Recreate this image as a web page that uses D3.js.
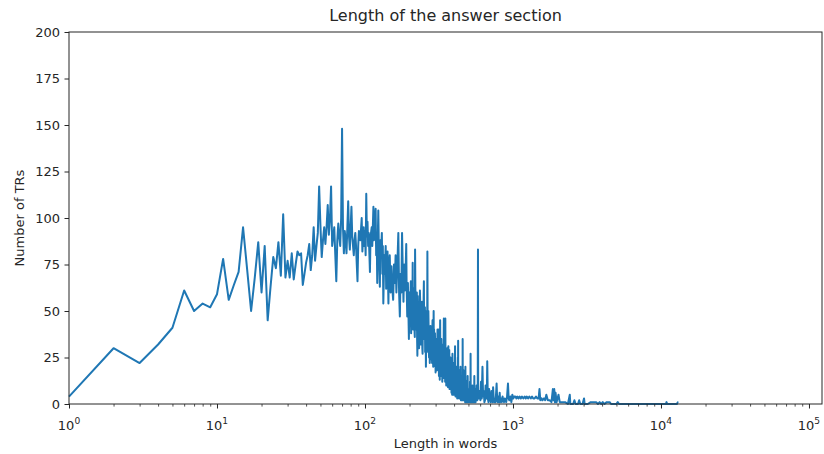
<!DOCTYPE html>
<html>
<head>
<meta charset="utf-8">
<script src="https://cdn.jsdelivr.net/npm/d3@7"></script>
<style>
  html, body { margin: 0; padding: 0; background: #fff; }
  svg { display: block; }
  text { font-family: "DejaVu Sans", sans-serif; fill: #262626; }
</style>
</head>
<body>
<svg id="chart" width="824" height="454"></svg>
<script>
// ---- Data ----
const lengths = [
  1,2,3,4,5,6,7,8,9,10,11,12,13,14,15,16,17,18,19,20,
  21,22,23,24,25,26,27,28,29,30,31,32,33,34,35,36,37,38,39,40,
  41,42,43,44,45,46,47,48,49,50,51,52,53,54,55,56,57,58,59,60,
  61,62,63,64,65,66,67,68,69,70,71,72,73,74,75,76,77,78,79,80,
  81,82,83,84,85,86,87,88,89,90,91,92,
  93,95,96,98,99,100,101,102,103,104,105,106,108,109,111,112,114,115,116,118,
  119,120,121,122,123,124,126,127,128,130,131,132,133,135,136,138,139,141,142,144,
  145,147,149,151,153,155,157,159,161,163,165,168,170,172,174,176,178,180,182,184,
  186,188,190,191,193,195,198,200,202,204,207,209,210,212,214,216,218,220,222,224,
  226,228,230,233,235,237,240,242,245,247,250,252,254,256,258,260,262,264,266,268,
  270,272,275,277,280,283,286,288,291,294,297,300,303,306,309,311,314,317,320,322,
  325,328,331,334,337,341,344,347,349,352,356,359,362,366,369,371,375,378,382,386,
  390,394,398,402,406,410,414,418,421,424,426,430,434,438,442,446,450,454,457,461,
  465,469,473,477,481,485,490,494,498,502,507,512,517,522,527,532,537,543,548,553,
  558,563,568,574,578,580,582,588,595,602,608,615,622,628,635,641,647,653,660,666,
  670,676,683,690,696,700,708,715,722,730,734,742,749,755,762,768,775,782,790,797,
  805,813,820,830,840,850,860,870,880,890,900,912,925,935,945,960,975,990,1005,1020,
  1037,1055,1070,1090,1109,1130,1150,1175,1200,1220,1240,1265,1290,1320,1345,1370,1400,1430,1460,1490,
  1510,1530,1560,1580,1620,1650,1680,1720,1770,1820,1860,1880,1900,1920,1940,1970,2030,2070,2150,2250,
  2350,2420,2440,2550,2600,2650,2750,2800,2850,2950,3020,3050,3200,3350,3450,3550,3650,3750,3850,3950,
  4040,4150,4300,4400,4500,4600,5000,5100,5200,10800,10900,11000,12800,13000,13100
];
const counts = [
  4,30,22,32,41,61,50,54,52,59,78,56,64,71,95,72,50,68,87,60,
  85,45,63,79,73,87,69,102,68,77,68,81,67,75,82,80,81,64,70,76,
  80,86,72,80,95,77,85,92,117,96,79,88,95,86,95,107,91,100,117,85,
  90,95,80,66,88,97,90,85,100,148,95,81,93,88,81,95,109,90,83,95,
  106,90,85,80,88,92,85,75,66,85,93,90,
  88,100,82,95,85,93,80,113,90,98,85,92,71,90,95,85,106,88,95,105,
  80,90,65,88,104,85,63,88,80,92,70,85,54,80,70,85,62,75,82,54,
  72,80,60,74,62,56,75,65,80,60,72,92,60,47,70,60,92,72,55,75,
  61,70,86,65,47,65,35,60,50,66,61,45,76,50,62,40,83,55,45,60,
  26,48,55,38,61,45,50,35,27,50,66,40,52,30,20,45,35,82,40,50,
  30,33,29,42,40,30,45,25,50,30,38,17,35,25,40,20,40,28,13,45,
  22,35,16,25,32,46,20,30,46,18,13,30,20,31,15,29,13,25,18,8,
  27,14,22,10,31,12,20,8,7,25,34,12,18,9,20,6,15,5,35,10,
  18,4,6,20,5,12,3,15,2,8,4,12,27,5,2,10,3,4,15,2,
  8,3,10,2,8,83,6,3,7,2,12,3,20,4,7,1,2,10,3,6,
  23,3,1,8,2,4,1,7,2,1,9,2,1,3,1,5,11,2,1,4,
  1,6,1,3,1,4,2,1,3,2,1,4,11,3,2,4,1,5,3,4,
  4,3,4,3,4,3,4,3,4,3,4,3,4,3,4,3,3,4,3,3,
  8,2,3,2,3,2,5,2,2,1,8,2,8,1,6,1,5,1,1,1,
  0,5,0,0,2,0,0,2,0,0,3,0,0,1,1,1,1,0,1,0,
  1,0,1,1,1,0,0,1,0,0,1,0,0,1,1
];
// additional readings inside the dense band (200–560 words)
const denseLengths = [
  201,203,205,206,208,211,213,215,217,219,
  221,223,225,227,229,231,232,234,236,238,
  239,241,243,244,246,248,249,251,253,255,
  257,259,261,263,265,267,269,271,273,274,
  276,278,279,281,282,284,285,287,289,290,
  292,293,295,296,298,299,301,302,304,305,
  307,308,310,312,313,315,316,318,319,321,
  323,324,326,327,329,330,332,333,335,336,
  338,339,340,342,343,345,346,348,350,351,
  353,354,355,357,358,360,361,363,364,365,
  367,368,370,372,373,374,376,377,379,380,
  381,383,384,385,387,388,389,391,392,393,
  395,396,397,399,400,401,403,404,405,407,
  408,409,411,412,413,415,416,417,419,420,
  422,423,425,427,428,429,431,432,433,435,
  436,437,439,440,441,443,444,445,447,448,
  449,451,452,453,455,456,458,459,460,462,
  463,464,466,467,468,470,471,472,474,475,
  476,478,479,480,482,483,484,486,487,488,
  489,491,492,493,495,496,497,499,500,501,
  503,504,505,506,508,509,510,511,513,514,
  515,516,518,519,520,521,523,524,525,526,
  528,529,530,531,533,534,535,536,538,539,
  540,541,542,544,545,546,547,549,550,551,
  552,554,555,556,557,559,560,561,562
];
const denseCounts = [
  42,58,38,55,62,40,58,48,36,62,
  40,52,35,58,40,50,30,48,55,32,
  52,42,55,30,45,35,58,35,48,28,
  42,32,50,30,45,28,42,25,40,22,
  35,26,38,24,36,22,38,30,20,35,
  24,40,22,30,20,32,22,28,18,30,
  20,32,26,30,18,32,15,30,20,28,
  16,30,15,28,18,30,22,12,28,15,
  22,14,30,16,26,14,24,12,25,14,
  24,10,22,18,10,24,12,22,9,20,
  12,22,10,18,8,20,9,18,8,20,
  10,15,6,16,12,5,16,8,18,6,
  15,5,14,7,16,5,14,6,18,8,
  15,4,14,6,16,5,12,4,14,3,
  12,5,10,4,14,6,12,3,10,5,
  12,3,10,4,12,3,10,2,9,3,
  11,2,8,3,10,2,8,3,9,2,
  8,3,7,2,9,2,8,3,8,1,
  6,2,7,1,6,2,7,1,6,2,
  7,1,5,2,6,1,5,2,6,1,
  5,1,6,2,5,1,6,2,5,1,
  7,2,5,1,6,2,5,1,4,2,
  5,1,4,2,5,1,4,2,5,1,
  4,1,5,1,4,2,5,1,4,2,
  5,1,4,2,5,1,4,2,5
];
const xTickExponents = [0, 1, 2, 3, 4, 5];
const yTicks = [0, 25, 50, 75, 100, 125, 150, 175, 200];
const titleText = "Length of the answer section";
const xLabelText = "Length in words";
const yLabelText = "Number of TRs";

// ---- Layout ----
const svg = d3.select("#chart");
const pL = 69, pR = 822, pT = 32, pB = 404;
const xMax = Math.pow(10, 5.088);
const fs = 13;

const x = d3.scaleLog().domain([1, xMax]).range([pL, pR]);
const y = d3.scaleLinear().domain([0, 200]).range([pB, pT]);

const n1 = Math.min(lengths.length, counts.length);
const n2 = Math.min(denseLengths.length, denseCounts.length);
const data = lengths.slice(0, n1).map((l, i) => ({ l, c: counts[i] }))
  .concat(denseLengths.slice(0, n2).map((l, i) => ({ l, c: denseCounts[i] })))
  .sort((a, b) => a.l - b.l);

// line
const line = d3.line().x(d => x(d.l)).y(d => y(d.c));
svg.append("path")
  .datum(data)
  .attr("d", line)
  .attr("fill", "none")
  .attr("stroke", "#1f77b4")
  .attr("stroke-width", 2)
  .attr("stroke-linejoin", "round");

// frame (spines)
svg.append("rect")
  .attr("x", pL).attr("y", pT)
  .attr("width", pR - pL).attr("height", pB - pT)
  .attr("fill", "none").attr("stroke", "#262626").attr("stroke-width", 1);

// x axis major ticks
const majorVals = xTickExponents.map(e => Math.pow(10, e));
const xAxis = d3.axisBottom(x).tickValues(majorVals).tickSize(4.5).tickFormat("");
const gx = svg.append("g").attr("transform", `translate(0,${pB})`).call(xAxis);
gx.select(".domain").remove();
gx.selectAll("line").attr("stroke", "#262626").attr("stroke-width", 1);

// minor ticks
const minorVals = [];
for (let e = 0; e <= 5; e++) for (let m = 2; m <= 9; m++) {
  const v = m * Math.pow(10, e);
  if (v < xMax) minorVals.push(v);
}
const xMinor = d3.axisBottom(x).tickValues(minorVals).tickSize(2.6).tickFormat("");
const gxm = svg.append("g").attr("transform", `translate(0,${pB})`).call(xMinor);
gxm.select(".domain").remove();
gxm.selectAll("line").attr("stroke", "#262626").attr("stroke-width", 0.8);

// x tick labels with superscripts
xTickExponents.forEach(e => {
  const t = svg.append("text")
    .attr("x", x(Math.pow(10, e)))
    .attr("y", pB + 26)
    .attr("text-anchor", "middle")
    .attr("font-size", fs);
  t.append("tspan").text("10");
  t.append("tspan").attr("font-size", fs * 0.7).attr("dy", -6).text(e);
});

// y axis
const yAxis = d3.axisLeft(y).tickValues(yTicks).tickSize(4.5).tickPadding(4.5);
const gy = svg.append("g").attr("transform", `translate(${pL},0)`).call(yAxis);
gy.select(".domain").remove();
gy.selectAll("line").attr("stroke", "#262626").attr("stroke-width", 1);
gy.selectAll("text").attr("font-size", fs).attr("font-family", "DejaVu Sans, sans-serif").attr("fill", "#262626");

// title
svg.append("text")
  .attr("x", (pL + pR) / 2).attr("y", pT - 11)
  .attr("text-anchor", "middle").attr("font-size", 16)
  .text(titleText);

// x label
svg.append("text")
  .attr("x", (pL + pR) / 2).attr("y", pB + 44)
  .attr("text-anchor", "middle").attr("font-size", fs)
  .text(xLabelText);

// y label
svg.append("text")
  .attr("transform", `translate(24,${(pT + pB) / 2}) rotate(-90)`)
  .attr("text-anchor", "middle").attr("font-size", fs)
  .text(yLabelText);
</script>
</body>
</html>
